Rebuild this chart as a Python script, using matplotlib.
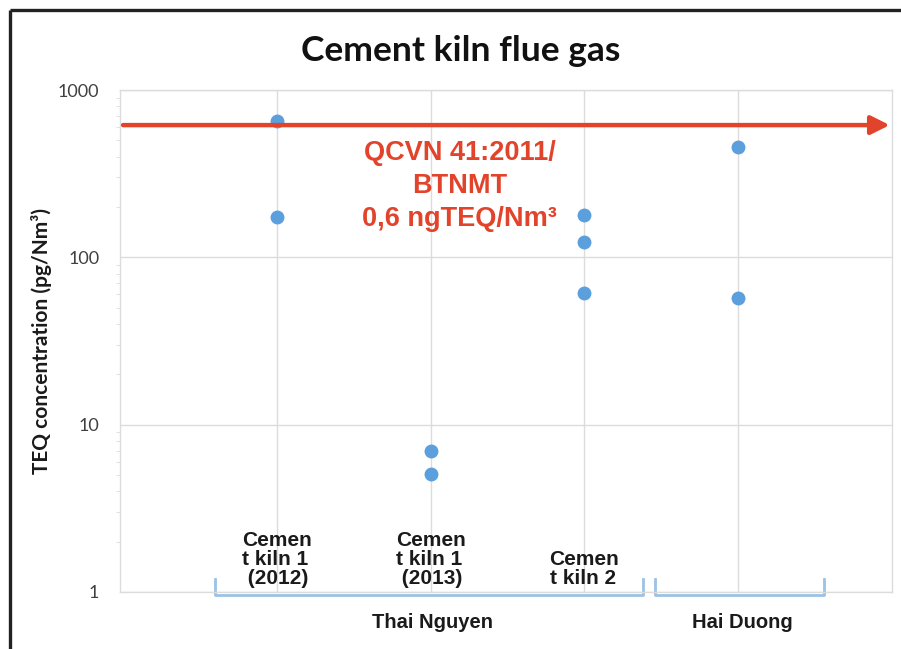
import matplotlib
matplotlib.use("Agg")
import matplotlib.pyplot as plt
import matplotlib.transforms as mtransforms
from matplotlib.lines import Line2D
from matplotlib.ticker import LogLocator, NullFormatter, FixedLocator, FixedFormatter

# ---- data ----
categories = ["Cemen\nt kiln 1\n (2012)", "Cemen\nt kiln 1\n (2013)", "Cemen\nt kiln 2", ""]
cat_pos = [1, 2, 3, 4]
kiln1_2012 = [650, 174]
kiln1_2013 = [7.0, 5.1]
kiln2 = [178, 123, 61]
hai_duong = [456, 57]
series = [kiln1_2012, kiln1_2013, kiln2, hai_duong]
limit_value = 617
limit_text = "QCVN 41:2011/\nBTNMT\n0,6 ngTEQ/Nm³"
groups = ["Thai Nguyen", "Hai Duong"]
group_spans = [(0.6, 3.38), (3.46, 4.56)]
yticks = [1, 10, 100, 1000]
ytick_labels = ["1", "10", "100", "1000"]

W, H = 901, 649
fig = plt.figure(figsize=(W / 100, H / 100), dpi=100)
fig.patch.set_facecolor("white")

ax = fig.add_axes([120 / W, 1 - 592 / H, 772 / W, 502 / H])
ax.set_yscale("log")
ax.set_ylim(1, 1000)
ax.set_xlim(-0.02, 5.0)

grid_c = "#dcdcdc"
for s in ax.spines.values():
    s.set_color(grid_c)
    s.set_linewidth(1.0)

ax.yaxis.set_major_locator(FixedLocator(yticks))
ax.yaxis.set_major_formatter(FixedFormatter(ytick_labels))
ax.yaxis.set_minor_locator(LogLocator(base=10, subs=range(2, 10)))
ax.yaxis.set_minor_formatter(NullFormatter())
ax.tick_params(axis="y", which="major", length=0, pad=15, labelsize=13, labelcolor="#404040")
ax.tick_params(axis="y", which="minor", length=3, color=grid_c)
for lab in ax.get_yticklabels():
    lab.set_fontfamily("Lato")

ax.set_xticks(cat_pos)
ax.set_xticklabels([])
ax.tick_params(axis="x", length=0)
ax.grid(True, which="major", color=grid_c, linewidth=1.0)
ax.set_axisbelow(True)

# points
pt_color = "#5b9fdc"
for x, vals in zip(cat_pos, series):
    ax.scatter([x] * len(vals), vals, s=100, color=pt_color, zorder=3, linewidths=0)

# limit arrow
red = "#e2432b"
ax.annotate("", xy=(4.985, limit_value), xytext=(0.0, limit_value),
            arrowprops=dict(arrowstyle="-|>", color=red, lw=3.2, mutation_scale=28,
                            shrinkA=0, shrinkB=0), annotation_clip=False, zorder=4)
ax.text(2.19, 266, limit_text, color=red, fontsize=19.5, fontweight="bold",
        family="Liberation Sans", ha="center", va="center", linespacing=1.36, zorder=5)

# category labels inside the axes, bottom-aligned
trans = mtransforms.blended_transform_factory(ax.transData, ax.transAxes)
for x, lab in zip(cat_pos, categories):
    if lab:
        ax.text(x, 0.008, lab, transform=trans, ha="center", va="bottom", multialignment="left",
                fontsize=15, fontweight="bold", family="Liberation Sans", color="#1a1a1a",
                linespacing=1.0)

# group brackets
br_c = "#9cc2e5"
for (x0, x1), g in zip(group_spans, groups):
    ax.add_line(Line2D([x0, x0, x1, x1], [0.025, -0.006, -0.006, 0.025], transform=trans,
                       color=br_c, lw=2, clip_on=False, solid_joinstyle="round"))
    ax.text((x0 + x1) / 2 + 0.02, -0.06, g, transform=trans, ha="center", va="center",
            fontsize=14.5, fontweight="bold", family="Liberation Sans", color="#1a1a1a")

# y label
ax.set_ylabel("TEQ concentration (pg/Nm³)", fontsize=15, fontweight="bold",
              family="Lato", color="#1a1a1a")
ax.yaxis.set_label_coords(-(120 - 52) / 772, 0.5)

# title
fig.text(461 / W, 1 - 51 / H, "Cement kiln flue gas", ha="center", va="center",
         fontsize=25.5, fontweight="bold", family="Lato", color="#111111")

# outer frame (left and top visible)
fig.add_artist(Line2D([10 / W, 10 / W], [0, 1 - 10 / H], transform=fig.transFigure,
                      color="#222222", lw=2.4, solid_capstyle="butt"))
fig.add_artist(Line2D([10 / W, 1], [1 - 10 / H, 1 - 10 / H], transform=fig.transFigure,
                      color="#222222", lw=2.4, solid_capstyle="butt"))

fig.savefig("out.png", dpi=100)
